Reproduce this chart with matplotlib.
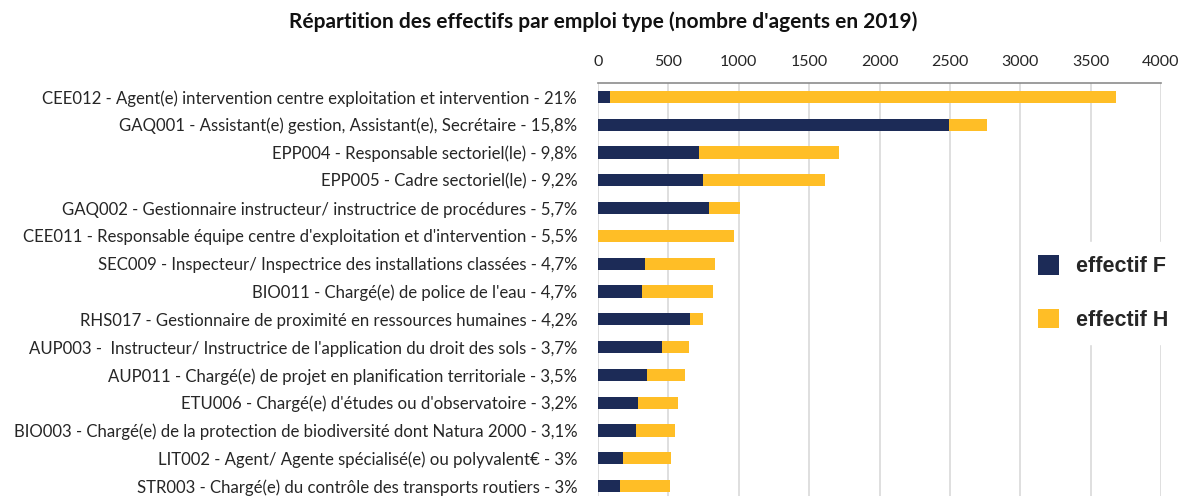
import matplotlib
matplotlib.use("Agg")
import matplotlib.pyplot as plt

categories = [
    "CEE012 - Agent(e) intervention centre exploitation et intervention - 21%",
    "GAQ001 - Assistant(e) gestion, Assistant(e), Secrétaire - 15,8%",
    "EPP004 - Responsable sectoriel(le) - 9,8%",
    "EPP005 - Cadre sectoriel(le) - 9,2%",
    "GAQ002 - Gestionnaire instructeur/ instructrice de procédures - 5,7%",
    "CEE011 - Responsable équipe centre d'exploitation et d'intervention - 5,5%",
    "SEC009 - Inspecteur/ Inspectrice des installations classées - 4,7%",
    "BIO011 - Chargé(e) de police de l'eau - 4,7%",
    "RHS017 - Gestionnaire de proximité en ressources humaines - 4,2%",
    "AUP003 -  Instructeur/ Instructrice de l'application du droit des sols - 3,7%",
    "AUP011 - Chargé(e) de projet en planification territoriale - 3,5%",
    "ETU006 - Chargé(e) d'études ou d'observatoire - 3,2%",
    "BIO003 - Chargé(e) de la protection de biodiversité dont Natura 2000 - 3,1%",
    "LIT002 - Agent/ Agente spécialisé(e) ou polyvalent€ - 3%",
    "STR003 - Chargé(e) du contrôle des transports routiers - 3%",
]
effectif_F = [83, 2493, 721, 743, 789, 0, 333, 312, 655, 457, 345, 281, 269, 181, 157]
effectif_H = [3599, 274, 991, 869, 218, 964, 498, 507, 88, 186, 276, 286, 276, 340, 355]
x_ticks = [0, 500, 1000, 1500, 2000, 2500, 3000, 3500, 4000]

W, H = 1183, 496
fig = plt.figure(figsize=(W / 100, H / 100), dpi=100)
ax = fig.add_axes([598 / W, 0.0, (1161 - 598) / W, (496 - 83) / H])

navy = "#1C2B57"
yellow = "#FFBE26"
ys = list(range(len(categories)))
ax.barh(ys, effectif_F, height=0.44, color=navy, label="effectif F", zorder=3)
ax.barh(ys, effectif_H, left=effectif_F, height=0.44, color=yellow, label="effectif H", zorder=3)

ax.set_xlim(0, 4000)
ax.set_ylim(14.36, -0.5)
ax.set_xticks(x_ticks)
ax.xaxis.tick_top()
ax.tick_params(axis="x", length=0, pad=10, labelsize=11.5, labelcolor="#262626")
for lab in ax.get_xticklabels():
    lab.set_fontfamily("Lato")
ax.set_yticks(ys)
ax.set_yticklabels(categories, fontsize=12.1, color="#262626", fontfamily="Lato")
ax.tick_params(axis="y", length=0, pad=15)
ax.grid(axis="x", color="#D9D9D9", linewidth=1.2, zorder=0)
for s in ["left", "right", "bottom"]:
    ax.spines[s].set_visible(False)
ax.spines["top"].set_color("#8C8C8C")
ax.spines["top"].set_linewidth(1.2)

leg = fig.legend(loc="center left", bbox_to_anchor=(1014 / W, 1 - 293 / H), frameon=True,
                 facecolor="white", edgecolor="white", framealpha=1,
                 prop={"family": "Liberation Sans", "weight": "bold", "size": 15.5},
                 handlelength=1.0, handleheight=1.0, labelspacing=1.45, handletextpad=0.8,
                 borderpad=0.6)
for t in leg.get_texts():
    t.set_color("#262626")

fig.text(603 / W, 1 - 22 / H, "Répartition des effectifs par emploi type (nombre d'agents en 2019)",
         ha="center", va="center", fontsize=15, fontweight="bold", fontfamily="Lato", color="#111111")

fig.savefig("out.png", dpi=100)
